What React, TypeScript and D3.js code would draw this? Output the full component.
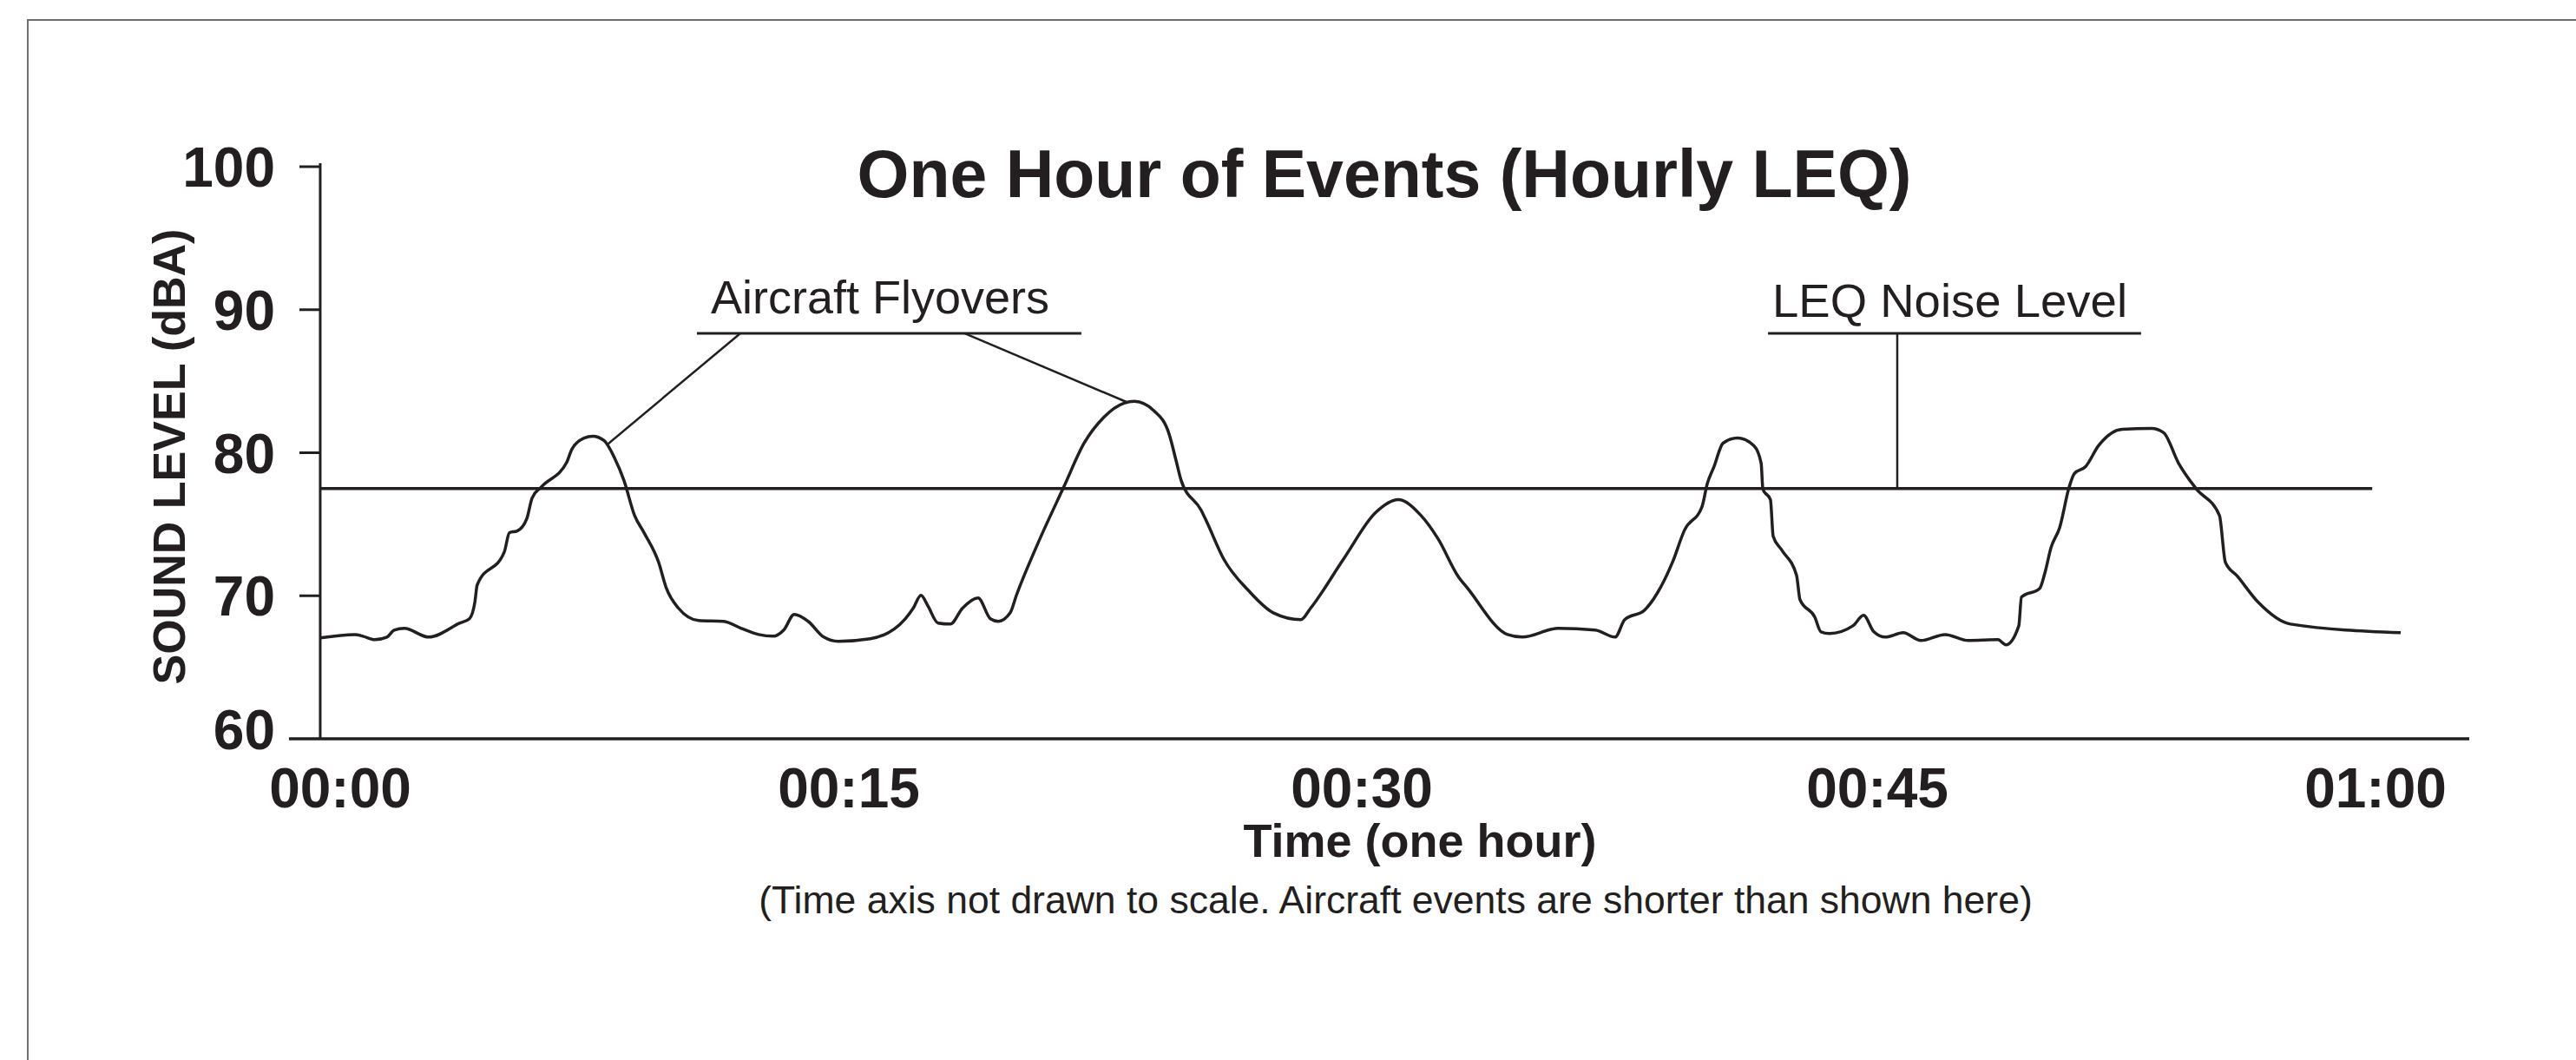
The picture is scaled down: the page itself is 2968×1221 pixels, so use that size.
import * as d3 from "d3";

// x axis labels (minutes into the hour)
const timeTicks = [0, 15, 30, 45, 60];
const timeLabels = ["00:00", "00:15", "00:30", "00:45", "01:00"];
const levelTicks = [60, 70, 80, 90, 100];

// traced sound level, minutes vs dBA
const minutes = [
  -0.59, 0.44, 0.67, 1.02, 1.38, 1.59, 1.89, 2.61, 3.53, 3.81,
  3.97, 4.04, 4.84, 4.99, 5.22, 5.5, 5.66, 5.94, 6.68, 6.83,
  7.19, 7.45, 7.78, 8.09, 8.37, 8.68, 8.96, 9.39, 9.62, 9.98,
  10.57, 11.31, 11.83, 12.34, 12.77, 13.08, 13.39, 13.8, 14.26, 14.69,
  15.63, 16.65, 16.88, 17.11, 17.31, 17.61, 17.97, 18.32, 18.78, 19.14,
  19.37, 19.72, 19.9, 20.51, 21.29, 21.88, 22.46, 23.05, 23.35, 23.93,
  24.37, 24.57, 24.72, 25.3, 25.46, 25.96, 26.7, 27.41, 28.22, 28.5,
  29.47, 30.4, 31.06, 31.72, 32.22, 32.8, 33.08, 34.24, 34.67, 35.71,
  36.79, 37.37, 37.65, 38.23, 38.59, 39.04, 39.39, 39.9, 40.05, 40.25,
  40.51, 40.93, 41.41, 41.62, 41.67, 41.89, 41.97, 42.22, 42.65, 42.75,
  43.18, 43.36, 43.61, 44.29, 44.6, 44.9, 45.24, 45.78, 46.31, 47.04,
  47.74, 48.63, 48.87, 49.26, 49.34, 49.89, 50.04, 50.23, 50.49, 50.78,
  50.93, 51.27, 51.66, 52.37, 53.26, 53.62, 54.07, 54.59, 55.3, 55.48,
  55.84, 56.47, 57.44, 60.76,
];
const levels = [
  67.05, 67.29, 67.17, 66.93, 67.11, 67.6, 67.72, 67.11, 68.09, 68.39,
  69.54, 70.76, 73.07, 74.41, 74.53, 75.38, 76.84, 77.63, 79.33, 80.24,
  81.03, 81.16, 80.85, 79.64, 78.05, 75.62, 74.41, 72.34, 70.52, 69.12,
  68.27, 68.21, 67.72, 67.29, 67.17, 67.6, 68.69, 68.21, 67.11, 66.81,
  66.99, 68.39, 69.12, 70.03, 69.3, 68.09, 68.02, 69.12, 69.85, 68.39,
  68.21, 68.81, 70.03, 73.56, 77.63, 80.67, 82.49, 83.47, 83.59, 82.92,
  81.28, 79.45, 78.05, 75.99, 75.2, 72.58, 70.33, 68.81, 68.33, 69.12,
  72.58, 75.81, 76.72, 75.62, 73.98, 71.37, 70.52, 67.29, 67.11, 67.72,
  67.6, 67.11, 68.33, 69.0, 70.15, 72.34, 74.59, 76.23, 77.81, 79.03,
  80.67, 81.03, 80.49, 79.27, 77.45, 76.72, 74.16, 73.19, 71.43, 69.73,
  68.51, 67.48, 67.36, 67.9, 68.63, 67.48, 67.11, 67.42, 66.87, 67.29,
  66.87, 66.93, 66.57, 67.9, 69.91, 70.52, 71.55, 73.37, 74.77, 77.63,
  78.54, 79.03, 80.49, 81.64, 81.7, 81.4, 79.27, 77.51, 75.62, 72.34,
  71.37, 69.54, 68.02, 67.42,
];

const leqLevel = 77.5;
const leqEnd = 59.9;

// callouts: bar level, bar extent and leader lines (minutes / dBA)
const flyoverBar = { level: 88.35, from: 10.52, to: 21.8 };
const flyoverLeaders = [
  { from: 11.8, toT: 7.88, toV: 80.58 },
  { from: 18.38, toT: 23.12, toV: 83.55 },
];
const leqBar = { level: 88.35, from: 41.82, to: 52.94, stem: 45.6 };

const INK = "#231f20";
const FONT = "'Liberation Sans', Arial, Helvetica, sans-serif";

export default function App() {
  const width = 2968,
    height = 1221;

  const x = d3.scaleLinear().domain(timeTicks).range([392, 978, 1569, 2163, 2737]);
  const y = d3.scaleLinear().domain([60, 100]).range([851, 192]);

  const x0 = x(minutes[0]);
  const yBase = y(60);

  const line = d3
    .line<number>()
    .x((d, i) => x(minutes[i]))
    .y((d) => y(d))
    .curve(d3.curveMonotoneX);

  return (
    <svg
      width={width}
      height={height}
      style={{ position: "absolute", left: 0, top: 0, background: "#fff" }}
      fontFamily={FONT}
    >
      {/* frame */}
      <path d={`M32,${height} V23 H${width}`} fill="none" stroke="#6d6e71" strokeWidth={2} />

      <text x={1595} y={227} textAnchor="middle" fontSize={77} fontWeight="bold" fill={INK}>
        One Hour of Events (Hourly LEQ)
      </text>

      {/* axes */}
      <line x1={x0} x2={x0} y1={y(100) - 4} y2={yBase} stroke={INK} strokeWidth={3} />
      <line x1={x0 - 36} x2={2845} y1={yBase} y2={yBase} stroke={INK} strokeWidth={3.5} />
      {levelTicks.slice(1).map((v) => (
        <line key={v} x1={x0 - 24} x2={x0} y1={y(v)} y2={y(v)} stroke={INK} strokeWidth={3} />
      ))}
      {levelTicks.map((v) => (
        <text
          key={v}
          x={317}
          y={y(v) + (v === 60 ? 12 : 23)}
          textAnchor="end"
          fontSize={64}
          fontWeight="bold"
          fill={INK}
        >
          {v}
        </text>
      ))}
      {timeTicks.map((t, i) => (
        <text key={t} x={x(t)} y={930} textAnchor="middle" fontSize={64} fontWeight="bold" fill={INK}>
          {timeLabels[i]}
        </text>
      ))}

      <text
        transform="translate(213,526) rotate(-90)"
        textAnchor="middle"
        fontSize={52}
        fontWeight="bold"
        fill={INK}
      >
        SOUND LEVEL (dBA)
      </text>
      <text x={1636} y={987} textAnchor="middle" fontSize={54} fontWeight="bold" fill={INK}>
        Time (one hour)
      </text>
      <text x={1608} y={1052} textAnchor="middle" fontSize={44.5} fill={INK}>
        (Time axis not drawn to scale. Aircraft events are shorter than shown here)
      </text>

      {/* LEQ level */}
      <line x1={x0} x2={x(leqEnd)} y1={y(leqLevel)} y2={y(leqLevel)} stroke={INK} strokeWidth={3.5} />

      {/* sound level trace */}
      <path d={line(levels) ?? ""} fill="none" stroke={INK} strokeWidth={3.5} strokeLinejoin="round" />

      {/* Aircraft Flyovers callout */}
      <text x={x(flyoverBar.from) + 16} y={361} fontSize={54} fill={INK}>
        Aircraft Flyovers
      </text>
      <line
        x1={x(flyoverBar.from)}
        x2={x(flyoverBar.to)}
        y1={y(flyoverBar.level)}
        y2={y(flyoverBar.level)}
        stroke={INK}
        strokeWidth={3}
      />
      {flyoverLeaders.map((l, i) => (
        <line
          key={i}
          x1={x(l.from)}
          y1={y(flyoverBar.level)}
          x2={x(l.toT)}
          y2={y(l.toV)}
          stroke={INK}
          strokeWidth={2.5}
        />
      ))}

      {/* LEQ Noise Level callout */}
      <text x={x(leqBar.from) + 5} y={365} fontSize={54.5} fill={INK}>
        LEQ Noise Level
      </text>
      <line
        x1={x(leqBar.from)}
        x2={x(leqBar.to)}
        y1={y(leqBar.level)}
        y2={y(leqBar.level)}
        stroke={INK}
        strokeWidth={3}
      />
      <line
        x1={x(leqBar.stem)}
        x2={x(leqBar.stem)}
        y1={y(leqBar.level)}
        y2={y(leqLevel)}
        stroke={INK}
        strokeWidth={2.5}
      />
    </svg>
  );
}
